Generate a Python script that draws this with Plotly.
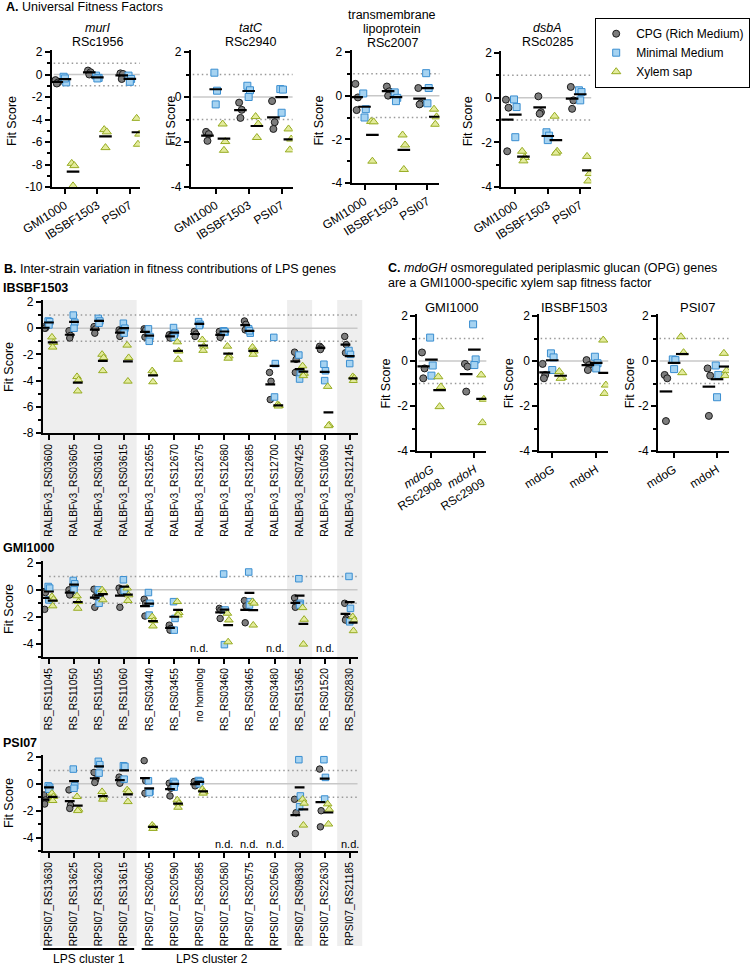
import numpy as np
import plotly.graph_objects as go

# ---------------- Panel A data (Fit scores, 3 replicates per group) ----------------
a_strains = ["GMI1000", "IBSBF1503", "PSI07"]

murI_cpg = [[-0.5, -0.7, -0.8], [0.35, 0.2, 0.0], [0.1, 0.05, -0.4]]
murI_mm = [[-0.2, -0.7, -0.35], [-0.1, -0.3, -0.35], [-0.1, -0.4, -0.65]]
murI_xyl = [[-7.9, -8.1, -9.9], [-4.9, -5.1, -6.5], [-3.9, -5.3, -6.2]]

tatC_cpg = [[-1.55, -1.65, -1.95], [-0.25, -0.57, -0.93], [-0.18, -1.12, -1.42]]
tatC_mm = [[1.08, 0.28, -0.33], [0.5, 0.3, 0.0], [0.35, 0.33, -0.7]]
tatC_xyl = [[-1.2, -1.98, -2.37], [-0.87, -1.2, -1.8], [-1.42, -1.87, -2.35]]

tmlp_cpg = [[0.54, -0.08, -0.66], [0.42, 0.2, 0.0], [0.35, -0.35, -0.4]]
tmlp_mm = [[0.1, -0.62, -1.0], [0.15, -0.1, -0.25], [1.03, 0.35, -0.35]]
tmlp_xyl = [[-1.18, -1.2, -3.0], [-1.8, -2.26, -3.38], [-0.62, -0.97, -1.31]]

dsbA_cpg = [[-0.09, -0.45, -2.4], [0.06, -0.65, -0.72], [0.48, -0.12, -0.5]]
dsbA_mm = [[-0.08, -0.42, -1.77], [-1.55, -1.7, -1.9], [0.33, 0.25, -0.12]]
dsbA_xyl = [[-2.4, -2.68, -2.83], [-0.83, -2.4, -2.48], [-2.63, -3.4, -3.73]]

# ---------------- Panel B data ----------------
ibsbf_genes = ["RALBFv3_RS03600", "RALBFv3_RS03605", "RALBFv3_RS03610", "RALBFv3_RS03615",
               "RALBFv3_RS12655", "RALBFv3_RS12670", "RALBFv3_RS12675", "RALBFv3_RS12680",
               "RALBFv3_RS12685", "RALBFv3_RS12700", "RALBFv3_RS07425", "RALBFv3_RS10690",
               "RALBFv3_RS12145"]
ibsbf_cpg = [[0.1, 0.0, 0.0], [-0.2, -0.55, -0.75], [0.12, -0.05, -0.38], [-0.13, -0.25, -0.63],
             [-0.05, -0.13, -0.68], [-0.5, -0.63, -0.75], [-0.25, -0.45, -0.63], [-0.25, -0.58, -0.7],
             [0.55, 0.3, -0.13], [-3.38, -4.05, -5.45], [-1.83, -2.38, -3.38], [-1.38, -1.5, -1.63],
             [-0.63, -1.25, -1.88]]
ibsbf_mm = [[0.55, 0.5, 0.25], [1.0, 0.45, 0.0], [0.75, 0.55, 0.38], [0.38, 0.0, -0.38],
            [-0.05, -0.63, -1.0], [0.05, -0.38, -0.7], [0.5, 0.3, 0.2], [-0.2, -0.3, -0.25],
            [-0.05, -0.38, -0.2], [-0.7, -2.7, -5.25], [-2.05, -3.45, -3.88], [-2.75, -3.25, -4.0],
            [-1.7, -2.0, -2.7]]
ibsbf_xyl = [[-0.68, -1.1, -1.45], [-3.7, -3.95, -4.8], [-2.0, -2.25, -3.25], [-1.3, -2.25, -4.05],
             [-3.25, -3.45, -4.1], [-1.05, -1.75, -2.38], [-0.88, -1.38, -1.7], [-1.38, -2.13, -2.3],
             [-1.45, -1.75, -2.0], [-5.83, -5.9, -5.95], [-2.88, -3.45, -3.63], [-4.45, -7.38, -7.45],
             [-3.7, -3.8, -4.0]]

gmi_genes = ["RS_RS11045", "RS_RS11050", "RS_RS11055", "RS_RS11060", "RS_RS03440", "RS_RS03455",
             "no homolog", "RS_RS03460", "RS_RS03465", "RS_RS03480", "RS_RS15365", "RS_RS01520",
             "RS_RS02830"]
gmi_cpg = [[-0.13, -0.2, -1.45], [0.0, -0.25, -0.38], [0.05, -0.5, -1.3], [0.13, -0.13, -1.3],
           [-0.7, -1.0, -1.95], [-2.63, -2.88, -3.0], None, [-1.38, -1.5, -2.13],
           [-0.8, -1.2, -2.45], None, [-0.6, -1.0, -1.3], None, [-1.0, -2.13, -2.25]]
gmi_mm = [[0.25, 0.13, -0.75], [0.7, 0.45, 0.0], [0.0, -0.25, -1.0], [0.75, 0.0, -0.05],
          [-0.2, -1.0, -1.88], [-0.88, -2.13, -3.0], None, [1.18, -1.5, -4.08],
          [1.33, -0.88, -1.13], None, [0.83, -1.0, -1.13], None, [1.0, -1.38, -2.38]]
gmi_xyl = [[-0.5, -0.7, -1.2], [-0.45, -0.88, -1.38], [0.0, -0.2, -0.75], [0.13, -0.38, -0.8],
           [-2.0, -2.3, -2.7], [-0.88, -1.7, -1.88], None, [-1.75, -2.25, -3.88],
           [-0.88, -1.0, -2.63], None, [-1.33, -2.2, -4.05], None, [-2.0, -2.25, -3.05]]

psi_genes = ["RPSI07_RS13630", "RPSI07_RS13625", "RPSI07_RS13620", "RPSI07_RS13615",
             "RPSI07_RS20605", "RPSI07_RS20590", "RPSI07_RS20585", "RPSI07_RS20580",
             "RPSI07_RS20575", "RPSI07_RS20560", "RPSI07_RS09830", "RPSI07_RS22630",
             "RPSI07_RS21185"]
psi_cpg = [[-0.83, -1.2, -1.5], [-0.45, -1.58, -1.83], [0.85, 0.3, 0.1], [0.5, 0.3, 0.05],
           [1.73, 0.23, -0.7], [0.05, -0.33, -0.9], [0.18, -0.08, -0.15], None, None, None,
           [-1.15, -2.15, -3.7], [1.1, -2.0, -3.2], None]
psi_mm = [[-0.15, -0.25, -0.4], [1.1, -0.15, -0.33], [1.68, 1.43, 0.8], [1.35, 1.3, 0.35],
          [0.23, -0.58, -0.65], [0.18, 0.05, -0.25], [0.25, 0.18, 0.0], None, None, None,
          [1.8, -0.9, -1.7], [1.8, 0.48, -1.13], None]
psi_xyl = [[-0.7, -0.95, -1.25], [-0.95, -1.9, -2.0], [-0.58, -1.0, -1.15], [-0.45, -0.58, -1.33],
           [-3.08, -3.2, -3.33], [-1.2, -1.45, -1.75], [-0.4, -0.58, -0.7], None, None, None,
           [-1.15, -1.45, -3.08], [-1.5, -1.9, -3.0], None]

# ---------------- Panel C data ----------------
c_genes_gmi = ["<i>mdoG</i><br>RSc2908", "<i>mdoH</i><br>RSc2909"]
c_genes = ["mdoG", "mdoH"]
gmi_mdo_cpg = [[0.38, -0.33, -0.77], [-0.13, -0.25, -1.36]]
gmi_mdo_mm = [[1.04, -0.2, -0.65], [1.63, 0.07, -0.18]]
gmi_mdo_xyl = [[-0.7, -1.15, -2.03], [-0.62, -1.7, -2.74]]
ibsbf_mdo_cpg = [[-0.13, -0.62, -0.77], [0.04, -0.18, -0.4]]
ibsbf_mdo_mm = [[0.34, 0.16, -0.4], [0.19, -0.1, -0.33]]
ibsbf_mdo_xyl = [[-0.47, -0.73, -0.77], [0.93, -1.07, -1.44]]
psi_mdo_cpg = [[-0.62, -0.77, -2.67], [-0.33, -0.65, -2.44]]
psi_mdo_mm = [[0.07, 0.04, -0.36], [-0.2, -0.62, -1.61]]
psi_mdo_xyl = [[1.08, 0.37, -0.52], [0.34, -0.43, -0.65]]

# ---------------- figure setup ----------------
W, H = 750, 968
FONT = "Liberation Sans, Arial, sans-serif"
COND = ["CPG (Rich Medium)", "Minimal Medium", "Xylem sap"]
SYM = ["circle", "square", "triangle-up"]
FILL = ["#7d7d7d", "#a6d3f1", "#e3eb9c"]
EDGE = ["#1c1c1c", "#3a8ed0", "#97ac22"]

fig = go.Figure()
lay = {}
band_shapes, line_shapes, annots = [], [], []
legend_done = set()


def yf(py):
    return 1 - py / H


def ann(text, xpx, ypx, size=12, xanchor="left", angle=0):
    annots.append(dict(text=text, x=xpx / W, y=yf(ypx), xref="paper", yref="paper",
                       xanchor=xanchor, yanchor="middle", showarrow=False, textangle=angle,
                       font=dict(size=size, color="black", family=FONT)))


def axes(n, xpx, c1, step, ncat, y2, ybot_px, ybot, ticktext, angle, tfont, xticklen=5):
    sfx = "" if n == 1 else str(n)
    x0, x1 = xpx
    r0 = 1 - (c1 - x0) / step
    r1 = ncat + (x1 - (c1 + (ncat - 1) * step)) / step
    ppu = (ybot_px - y2) / (2 - ybot)
    top_px = y2 - 2
    ytop = 2 + 2 / ppu
    yv = [v for v in range(-10, 3) if v % 2 == 0 and v >= ybot]
    lay["xaxis" + sfx] = dict(domain=[x0 / W, x1 / W], range=[r0, r1], anchor="y" + sfx,
                              tickmode="array", tickvals=list(range(1, ncat + 1)), ticktext=ticktext,
                              tickangle=angle, tickfont=dict(size=tfont, color="black", family=FONT),
                              showline=True, linecolor="black", linewidth=2, ticks="outside",
                              ticklen=xticklen, tickwidth=1.5, tickcolor="black", showgrid=False,
                              zeroline=False, automargin=False, fixedrange=True)
    lay["yaxis" + sfx] = dict(domain=[yf(ybot_px), yf(top_px)], range=[ybot, ytop], anchor="x" + sfx,
                              tickmode="array", tickvals=yv, ticktext=[str(v) for v in yv],
                              tickfont=dict(size=12, color="black", family=FONT),
                              showline=True, linecolor="black", linewidth=2, ticks="outside",
                              ticklen=5, tickwidth=1.5, tickcolor="black",
                              minor=dict(ticks="outside", ticklen=3, tickwidth=1.5, tickcolor="black",
                                         dtick=1, tick0=0, showgrid=False),
                              showgrid=False, zeroline=False, automargin=False, fixedrange=True)
    for yv_, dash, col in [(0, "solid", "#c8c8c8"), (1, "1.5px,3px", "#999999"),
                           (-1, "1.5px,3px", "#999999")]:
        line_shapes.append(dict(type="line", xref=f"x{sfx} domain", yref="y" + sfx, x0=0.02, x1=1,
                                y0=yv_, y1=yv_, line=dict(color=col, width=1.5, dash=dash),
                                layer="below"))


def points(n, groups, offs, jit, sizes, barsize):
    sfx = "" if n == 1 else str(n)
    means = []
    for k, grp in enumerate(groups):
        xs, ys, mx, my = [], [], [], []
        for i, vals in enumerate(grp):
            if vals is None:
                continue
            for j, v in enumerate(vals):
                xs.append(i + 1 + offs[k] + jit[j % len(jit)])
                ys.append(v)
            mx.append(i + 1 + offs[k])
            my.append(float(np.mean(vals)))
        fig.add_trace(go.Scatter(
            x=xs, y=ys, xaxis="x" + sfx, yaxis="y" + sfx, mode="markers", name=COND[k],
            legendgroup=COND[k], showlegend=(k not in legend_done), hoverinfo="skip",
            marker=dict(symbol=SYM[k], size=sizes[k], color=FILL[k],
                        line=dict(color=EDGE[k], width=1))))
        legend_done.add(k)
        means.append((mx, my))
    for mx, my in means:
        fig.add_trace(go.Scatter(
            x=mx, y=my, xaxis="x" + sfx, yaxis="y" + sfx, mode="markers", showlegend=False,
            hoverinfo="skip",
            marker=dict(symbol="line-ew", size=barsize, color="black",
                        line=dict(color="black", width=2.2))))


def nd_labels(n, grp, yval):
    sfx = "" if n == 1 else str(n)
    for i, vals in enumerate(grp):
        if vals is None:
            annots.append(dict(text="n.d.", x=i + 1, y=yval, xref="x" + sfx, yref="y" + sfx,
                               showarrow=False, xanchor="center", yanchor="middle",
                               font=dict(size=11, color="black", family=FONT)))


# ---------------- Panel A ----------------
A_OFF = [-0.25, 0.0, 0.25]
A_JIT = [-0.04, 0.04, 0.0]
A_SIZE = [7, 7, 8]
axes(1, (52, 140), 65, 32.5, 3, 52, 187, -10, a_strains, -32, 12)
axes(2, (191, 293), 216, 33, 3, 52, 187, -4, a_strains, -32, 12)
axes(3, (352, 440), 365, 31.5, 3, 52, 183, -4, a_strains, -32, 12)
axes(4, (502, 592), 516, 32.5, 3, 53, 187, -4, a_strains, -32, 12)
points(1, [murI_cpg, murI_mm, murI_xyl], A_OFF, A_JIT, A_SIZE, 9)
points(2, [tatC_cpg, tatC_mm, tatC_xyl], A_OFF, A_JIT, A_SIZE, 9)
points(3, [tmlp_cpg, tmlp_mm, tmlp_xyl], A_OFF, A_JIT, A_SIZE, 9)
points(4, [dsbA_cpg, dsbA_mm, dsbA_xyl], A_OFF, A_JIT, A_SIZE, 9)

ann("<b>A.</b> Universal Fitness Factors", 4, 7, 12.5)
ann("<i>murI</i>", 98, 28, 12.5, "center")
ann("RSc1956", 98, 42, 12.5, "center")
ann("<i>tatC</i>", 251, 28, 12.5, "center")
ann("RSc2940", 251, 42, 12.5, "center")
ann("transmembrane", 393, 15, 12.5, "center")
ann("lipoprotein", 393, 29, 12.5, "center")
ann("RSc2007", 393, 43, 12.5, "center")
ann("<i>dsbA</i>", 548, 28, 12.5, "center")
ann("RSc0285", 548, 42, 12.5, "center")
for xp in (12, 171, 319, 469):
    ann("Fit Score", xp, 121, 12.5, "center", -90)

# ---------------- Panel B ----------------
B_OFF = [-0.17, 0.0, 0.15]
B_JIT = [-0.03, 0.03, 0.0]
B_SIZE = [6.5, 6.5, 7.5]
B_C1, B_STEP = 49, 25.1


def bpx(c):
    return B_C1 + (c - 1) * B_STEP


for c0, c1 in [(0.64, 4.5), (10.5, 11.5), (12.5, 13.5)]:
    band_shapes.append(dict(type="rect", xref="paper", yref="paper", x0=bpx(c0) / W, x1=bpx(c1) / W,
                            y0=yf(946), y1=yf(300), fillcolor="#eeeeee", line=dict(width=0),
                            layer="below"))

axes(5, (43, 358), B_C1, B_STEP, 13, 302, 433, -8, ibsbf_genes, -90, 10.3)
axes(6, (43, 358), B_C1, B_STEP, 13, 563, 657, -5, gmi_genes, -90, 10.3)
axes(7, (43, 358), B_C1, B_STEP, 13, 757, 851, -5, psi_genes, -90, 10.3)
points(5, [ibsbf_cpg, ibsbf_mm, ibsbf_xyl], B_OFF, B_JIT, B_SIZE, 7)
points(6, [gmi_cpg, gmi_mm, gmi_xyl], B_OFF, B_JIT, B_SIZE, 7)
points(7, [psi_cpg, psi_mm, psi_xyl], B_OFF, B_JIT, B_SIZE, 7)
nd_labels(6, gmi_cpg, -4.35)
nd_labels(7, psi_cpg, -4.45)

ann("<b>B.</b> Inter-strain variation in fitness contributions of LPS genes", 2, 269, 12.5)
ann("<b>IBSBF1503</b>", 1, 288, 12.5)
ann("<b>GMI1000</b>", 1, 548, 12.5)
ann("<b>PSI07</b>", 1, 743, 12.5)
for yp in (367, 609, 803):
    ann("Fit Score", 9, yp, 12.5, "center", -90)

for c0, c1, lbl in [(0.76, 4.4, "LPS cluster 1"), (4.7, 10.28, "LPS cluster 2")]:
    line_shapes.append(dict(type="line", xref="paper", yref="paper", x0=bpx(c0) / W, x1=bpx(c1) / W,
                            y0=yf(949), y1=yf(949), line=dict(color="black", width=2.2)))
    ann(lbl, (bpx(c0) + bpx(c1)) / 2, 959, 12, "center")

# ---------------- Panel C ----------------
C_OFF = [-0.19, 0.0, 0.19]
C_JIT = [-0.03, 0.03, 0.0]
axes(8, (418, 487), 432, 43, 2, 316, 451, -4, c_genes_gmi, -32, 12)
axes(9, (540, 609), 553, 44, 2, 316, 451, -4, c_genes, -32, 12)
axes(10, (659, 730), 675, 43, 2, 316, 451, -4, c_genes, -32, 12)
points(8, [gmi_mdo_cpg, gmi_mdo_mm, gmi_mdo_xyl], C_OFF, C_JIT, A_SIZE, 9)
points(9, [ibsbf_mdo_cpg, ibsbf_mdo_mm, ibsbf_mdo_xyl], C_OFF, C_JIT, A_SIZE, 9)
points(10, [psi_mdo_cpg, psi_mdo_mm, psi_mdo_xyl], C_OFF, C_JIT, A_SIZE, 9)

ann("<b>C.</b> <i>mdoGH</i> osmoregulated periplasmic glucan (OPG) genes", 387, 268, 12.5)
ann("are a GMI1000-specific xylem sap fitness factor", 387, 283, 12.5)
ann("GMI1000", 452, 307, 13, "center")
ann("IBSBF1503", 575, 307, 13, "center")
ann("PSI07", 698, 307, 13, "center")
for xp in (387, 510, 631):
    ann("Fit Score", xp, 383, 12.5, "center", -90)

fig.update_layout(
    width=W, height=H, template="none",
    margin=dict(l=0, r=0, t=0, b=0),
    paper_bgcolor="white", plot_bgcolor="rgba(0,0,0,0)",
    font=dict(family=FONT, size=12, color="black"),
    shapes=band_shapes + line_shapes,
    annotations=annots,
    legend=dict(x=596 / W, y=yf(18), xanchor="left", yanchor="top", bordercolor="black",
                borderwidth=1.2, bgcolor="white", tracegroupgap=0,
                font=dict(size=12, color="black", family=FONT)),
    **lay,
)

# remove the default 8px page margin so the figure sits at the window's top-left corner
fig.write_html("out.html", config={"displayModeBar": False},
               post_script="document.body.style.margin='0px';")
